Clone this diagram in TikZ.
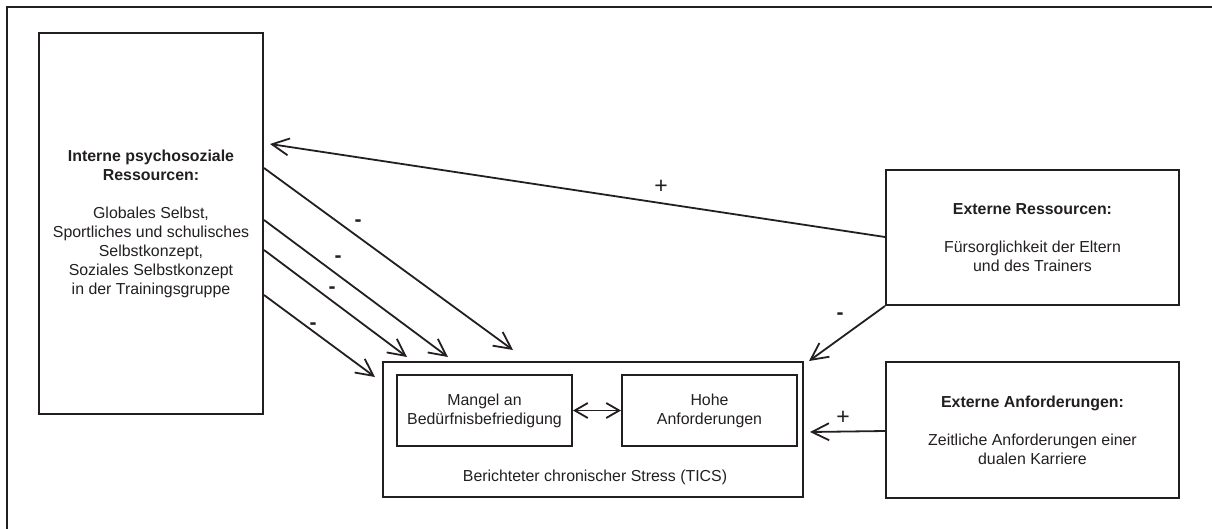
\documentclass[tikz,border=0pt]{standalone}
\usepackage{fontspec}
\setmainfont{Liberation Sans}
\usetikzlibrary{arrows.meta}
\definecolor{ink}{HTML}{231F20}
\begin{document}
\begin{tikzpicture}[x=1pt,y=-1pt,
  every node/.style={text=ink, font=\fontsize{15.9}{19}\selectfont},
  box/.style={draw=ink, line width=2pt, rectangle, inner sep=0pt, align=center},
  conn/.style={draw=ink, line width=1.8pt, -{Straight Barb[length=17pt,width=17pt,line width=1.8pt]}},
  dconn/.style={draw=ink, line width=1.5pt, {Straight Barb[length=13pt,width=15pt,line width=1.8pt]}-{Straight Barb[length=13pt,width=15pt,line width=1.8pt]}},
  minus/.style={font=\fontsize{21}{21}\selectfont\bfseries, inner sep=0pt},
  plus/.style={font=\fontsize{23}{23}\selectfont, inner sep=0pt}]
\useasboundingbox (0,0) rectangle (1212,528);
% outer frame (cropped at right and bottom)
\draw[draw=ink, line width=2pt] (7,560) -- (7,7) -- (1240,7);

\node[box, minimum width=224pt, minimum height=381pt] (intern) at (151,223.5)
  {\textbf{Interne psychosoziale}\\\textbf{Ressourcen:}\\[19pt]Globales Selbst,\\Sportliches und schulisches\\Selbstkonzept,\\Soziales Selbstkonzept\\in der Trainingsgruppe};

\node[box, minimum width=420pt, minimum height=135pt] (stress) at (593,429.5) {};
\node[inner sep=0pt] (stresslabel) at (595,477) {Berichteter chronischer Stress (TICS)};
\node[box, minimum width=175pt, minimum height=71pt] (mangel) at (484.5,410.5)
  {Mangel an\\Bedürfnisbefriedigung};
\node[box, minimum width=175pt, minimum height=71pt] (hohe) at (709.5,410.5)
  {Hohe\\Anforderungen};

\node[box, minimum width=293pt, minimum height=135pt] (extres) at (1032.5,237.5)
  {\textbf{Externe Ressourcen:}\\[19pt]Fürsorglichkeit der Eltern\\und des Trainers};
\node[box, minimum width=293pt, minimum height=136pt] (extanf) at (1032.5,430)
  {\textbf{Externe Anforderungen:}\\[19pt]Zeitliche Anforderungen einer\\dualen Karriere};

% end points
\coordinate (pin) at (270,144);
\coordinate (t1) at (513,350);
\coordinate (t2) at (448,357);
\coordinate (t3) at (407,357);
\coordinate (t4) at (375,377);
\coordinate (t5) at (809,361);
\coordinate (t6) at (810,432);

\draw[conn] (extres.west |- 0,237) -- (pin);
\draw[conn] (intern.east |- 0,168) -- (t1);
\draw[conn] (intern.east |- 0,220) -- (t2);
\draw[conn] (intern.east |- 0,250) -- (t3);
\draw[conn] (intern.east |- 0,295) -- (t4);
\draw[conn] (extres.south west) -- (t5);
\draw[conn] (extanf.west |- 0,431) -- (t6);
\draw[dconn] (mangel.east) -- (hohe.west);

\node[plus] (lp1) at (661,187) {+};
\node[minus] (lm1) at (358,223) {-};
\node[minus] (lm2) at (338,259) {-};
\node[minus] (lm3) at (332,290) {-};
\node[minus] (lm4) at (313,326) {-};
\node[minus] (lm5) at (840,316) {-};
\node[plus] (lp2) at (843,418) {+};
\end{tikzpicture}
\end{document}
